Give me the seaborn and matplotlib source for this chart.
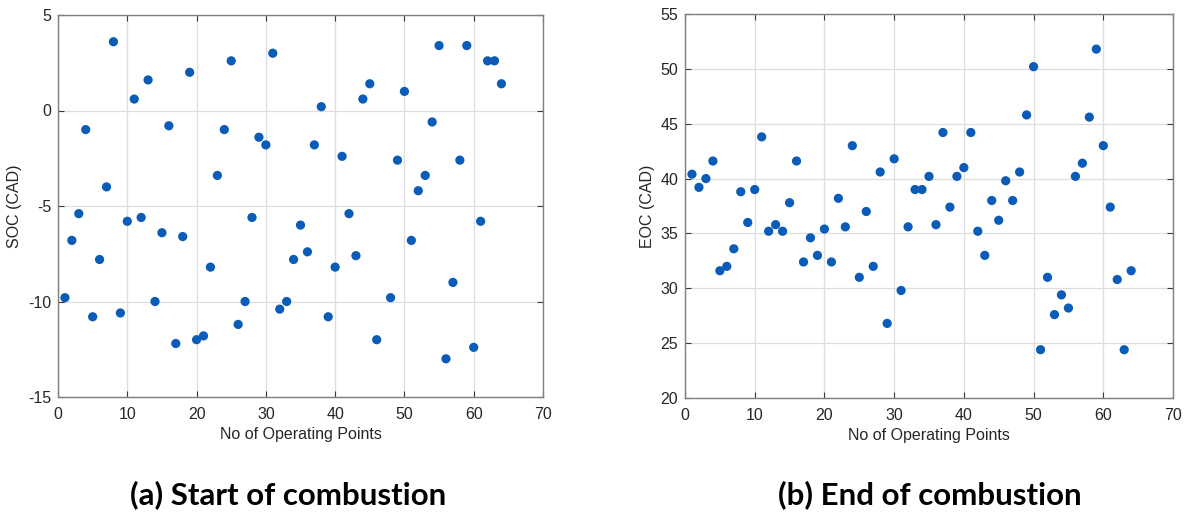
import matplotlib
matplotlib.use("Agg")
import matplotlib.pyplot as plt
import seaborn as sns
import pandas as pd

# ---- data ----
soc_x = [1, 2, 3, 4, 5, 6, 7, 8, 9, 10, 11, 12, 13, 14, 15, 16, 17, 18, 19, 20,
         21, 22, 23, 24, 25, 26, 27, 28, 29, 30, 31, 32, 33, 34, 35, 36, 37, 38, 39, 40,
         41, 42, 43, 44, 45, 46, 48, 49, 50, 51, 52, 53, 54, 55, 56, 57, 58, 59, 60,
         61, 62, 63, 64]
soc_y = [-9.8, -6.8, -5.4, -1.0, -10.8, -7.8, -4.0, 3.6, -10.6, -5.8,
         0.6, -5.6, 1.6, -10.0, -6.4, -0.8, -12.2, -6.6, 2.0, -12.0,
         -11.8, -8.2, -3.4, -1.0, 2.6, -11.2, -10.0, -5.6, -1.4, -1.8,
         3.0, -10.4, -10.0, -7.8, -6.0, -7.4, -1.8, 0.2, -10.8, -8.2,
         -2.4, -5.4, -7.6, 0.6, 1.4, -12.0, -9.8, -2.6, 1.0, -6.8,
         -4.2, -3.4, -0.6, 3.4, -13.0, -9.0, -2.6, 3.4, -12.4,
         -5.8, 2.6, 2.6, 1.4]

eoc_x = list(range(1, 65))
eoc_y = [40.4, 39.2, 40.0, 41.6, 31.6, 32.0, 33.6, 38.8, 36.0, 39.0,
         43.8, 35.2, 35.8, 35.2, 37.8, 41.6, 32.4, 34.6, 33.0, 35.4,
         32.4, 38.2, 35.6, 43.0, 31.0, 37.0, 32.0, 40.6, 26.8, 41.8,
         29.8, 35.6, 39.0, 39.0, 40.2, 35.8, 44.2, 37.4, 40.2, 41.0,
         44.2, 35.2, 33.0, 38.0, 36.2, 39.8, 38.0, 40.6, 45.8, 50.2,
         24.4, 31.0, 27.6, 29.4, 28.2, 40.2, 41.4, 45.6, 51.8, 43.0,
         37.4, 30.8, 24.4, 31.6]

x_ticks = [0, 10, 20, 30, 40, 50, 60, 70]
soc_ticks = [-15, -10, -5, 0, 5]
eoc_ticks = [20, 25, 30, 35, 40, 45, 50, 55]

x_label = "No of Operating Points"
soc_label = "SOC (CAD)"
eoc_label = "EOC (CAD)"
title_a = "(a) Start of combustion"
title_b = "(b) End of combustion"

df_soc = pd.DataFrame({"x": soc_x, "y": soc_y})
df_eoc = pd.DataFrame({"x": eoc_x, "y": eoc_y})

sns.set_theme(style="ticks")
plt.rcParams["font.family"] = ["Liberation Sans", "DejaVu Sans"]
plt.rcParams["axes.unicode_minus"] = False

W, H = 1191, 521
fig = plt.figure(figsize=(W / 100, H / 100), dpi=100)
ax1 = fig.add_axes([58 / W, 1 - 397 / H, 485 / W, 382 / H])
ax2 = fig.add_axes([685 / W, 1 - 398 / H, 488 / W, 384 / H])

dot = "#0a5cb8"

def style(ax, df, yticks, ylabel):
    sns.scatterplot(data=df, x="x", y="y", ax=ax, color=dot, s=44,
                    edgecolor="none", linewidth=0, zorder=3)
    ax.set_xlim(0, 70)
    ax.set_ylim(yticks[0], yticks[-1])
    ax.set_xticks(x_ticks)
    ax.set_yticks(yticks)
    ax.grid(True, color="#dedede", linewidth=0.9, zorder=0)
    ax.set_axisbelow(True)
    for sp in ax.spines.values():
        sp.set_visible(True)
        sp.set_color("#7f7f7f")
        sp.set_linewidth(1.0)
    ax.tick_params(direction="in", length=4, width=0.8, color="#3a3a3a",
                   top=True, right=True, labelsize=11.5, labelcolor="#262626")
    ax.tick_params(axis="x", pad=7)
    ax.tick_params(axis="y", pad=5)
    ax.set_xlabel(x_label, fontsize=11.5, color="#262626", labelpad=4)
    ax.set_ylabel(ylabel, fontsize=11.5, color="#262626", labelpad=4)

style(ax1, df_soc, soc_ticks, soc_label)
style(ax2, df_eoc, eoc_ticks, eoc_label)

fig.text(288 / W, 1 - 495 / H, title_a, ha="center", va="center", color="black",
         fontsize=22.5, fontweight="bold", family=["Lato", "DejaVu Sans"])
fig.text(930 / W, 1 - 495 / H, title_b, ha="center", va="center", color="black",
         fontsize=22.5, fontweight="bold", family=["Lato", "DejaVu Sans"])

fig.savefig("out.png", dpi=100)
